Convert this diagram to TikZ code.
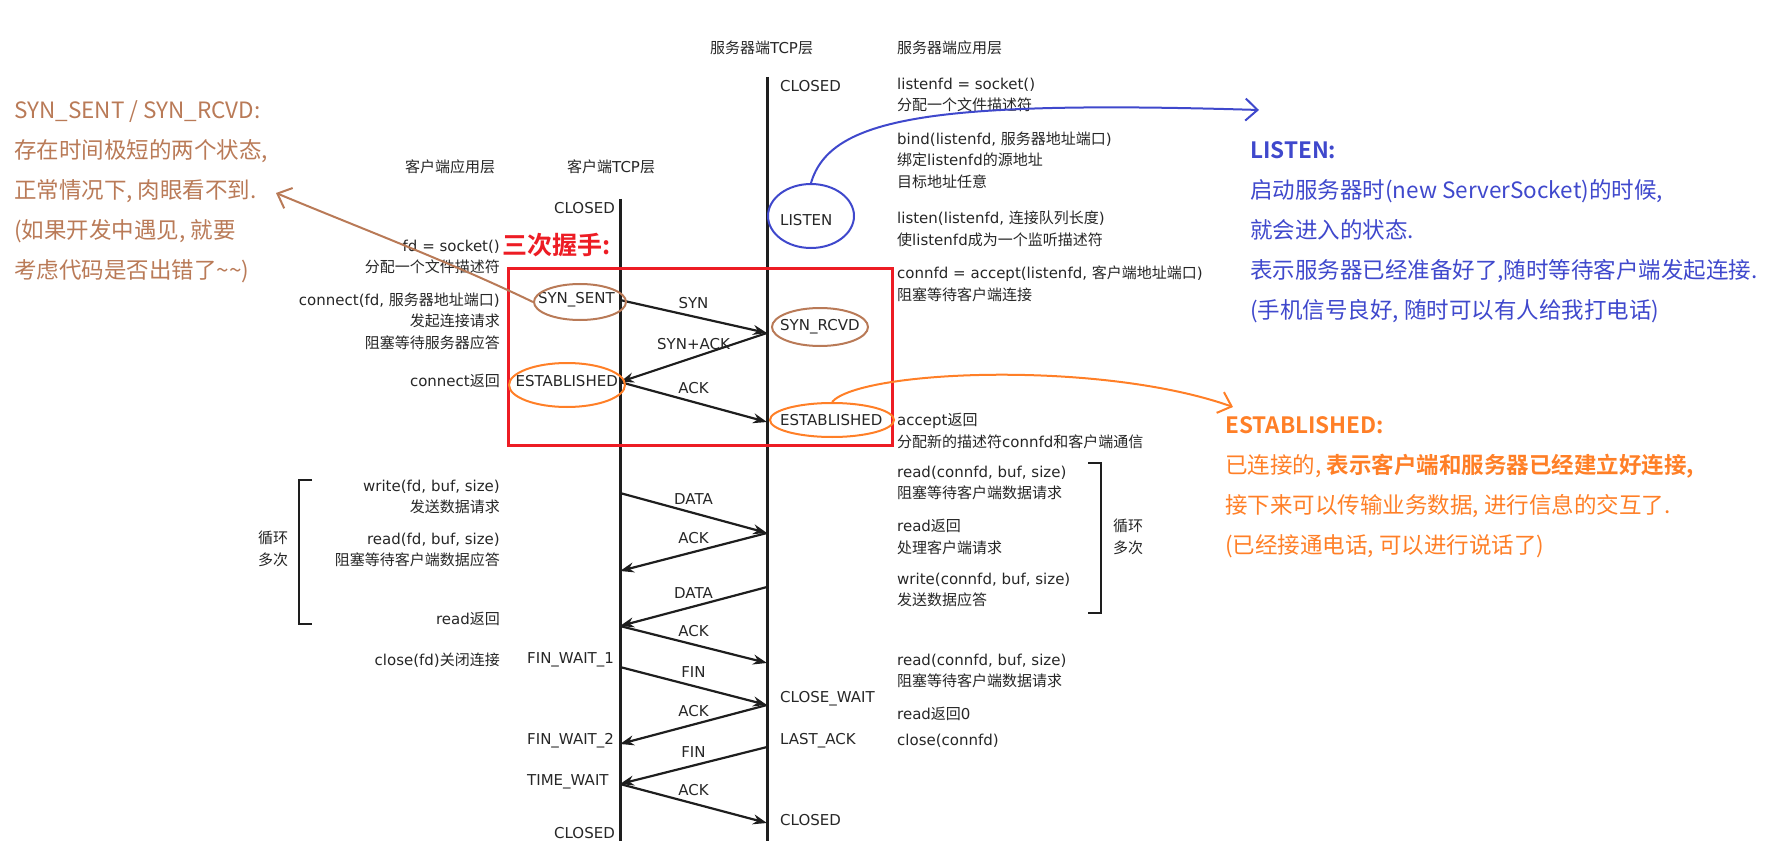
\documentclass[tikz,border=0pt]{standalone}
\usepackage{fontspec}
\setmainfont{Noto Sans CJK SC}[BoldFont={Noto Sans CJK SC Bold}]
\newfontfamily\dgLat{DejaVu Sans}
\newfontfamily\dgCjk{Noto Sans CJK SC}
\newXeTeXintercharclass\dgCjkClass
\newcount\dgChr
\dgChr="3000
\loop
  \XeTeXcharclass\dgChr=\dgCjkClass
  \advance\dgChr by 1
\ifnum\dgChr<"A000 \repeat
\XeTeXinterchartoks 0 \dgCjkClass = {\dgCjk}
\XeTeXinterchartoks 4095 \dgCjkClass = {\dgCjk}
\XeTeXinterchartoks \dgCjkClass 0 = {\dgLat}
\XeTeXinterchartoks \dgCjkClass 4095 = {\dgLat}
\newcommand\dgfont{\dgLat\fontsize{15}{21.5}\selectfont\XeTeXinterchartokenstate=1\relax}
\usepackage{tikz}
\usetikzlibrary{arrows.meta,shapes.geometric}
\definecolor{dgInk}{HTML}{262626}
\definecolor{dgLine}{HTML}{1E1E1E}
\definecolor{pnBrown}{HTML}{B97A57}
\definecolor{pnBlue}{HTML}{3F48CC}
\definecolor{pnOrange}{HTML}{FF7F27}
\definecolor{pnRed}{HTML}{ED1C24}

\begin{document}
\begin{tikzpicture}[x=1pt,y=-1pt,
  lab/.style={text=dgInk,inner sep=0pt,font=\dgfont},
  rl/.style={lab,anchor=east,align=right},
  ll/.style={lab,anchor=west,align=left},
  life/.style={dgLine,line width=3pt},
  msg/.style={-{Stealth[length=14pt,width=10pt]},dgLine,line width=2.2pt},
  ml/.style={lab,midway,above=7pt},
  ring/.style={draw,ellipse,line width=2pt,inner sep=0pt},
  hand/.style={-{Straight Barb[length=12pt,width=22pt]},line width=2pt},
  note/.style={anchor=north west,align=left,inner sep=0pt,font=\fontsize{22.5}{40}\selectfont}]
\useasboundingbox (0,0) rectangle (1781,853);
% headers
\node[ll] (hsrvtcp) at (710,48) {服务器端TCP层};
\node[ll] (hsrvapp) at (897,48) {服务器端应用层};
\node[ll] (hcliapp) at (405,167) {客户端应用层};
\node[ll] (hclitcp) at (567,167) {客户端TCP层};
% lifelines
\coordinate (ct) at (620,199);
\coordinate (cb) at (620,841);
\coordinate (st) at (767,77);
\coordinate (sb) at (767,841);
\draw[life] (ct) -- (cb);
\draw[life] (st) -- (sb);
% client application side
\node[rl] (cfd) at (500,257) {fd = socket()\\分配一个文件描述符};
\node[rl] (cconn) at (500,321) {connect(fd, 服务器地址端口)\\发起连接请求\\阻塞等待服务器应答};
\node[rl] (cconnret) at (500,381) {connect返回};
\node[rl] (cwrite) at (500,497) {write(fd, buf, size)\\发送数据请求};
\node[rl] (cread) at (500,550) {read(fd, buf, size)\\阻塞等待客户端数据应答};
\node[rl] (creadret) at (500,619) {read返回};
\node[rl] (cclose) at (500,660) {close(fd)关闭连接};
\node[lab,align=center] (cloop) at (273,549) {循环\\多次};
\draw[dgLine,line width=2.2pt] (312,480) -- (299,480) -- (299,624) -- (312,624);
% client states
\node[rl] (cs0) at (615,208) {CLOSED};
\node[rl] (cs1) at (615,300) {SYN\_SENT};
\node[rl] (cs2) at (618,381) {ESTABLISHED};
\node[ll] (cs3) at (527,660) {FIN\_WAIT\_1};
\node[ll] (cs4) at (527,741) {FIN\_WAIT\_2};
\node[ll] (cs5) at (527,782) {TIME\_WAIT};
\node[rl] (cs6) at (615,833) {CLOSED};
% server states
\node[ll] (ss0) at (780,86) {CLOSED};
\node[ll] (ss1) at (780,220) {LISTEN};
\node[ll] (ss2) at (780,327) {SYN\_RCVD};
\node[ll] (ss3) at (780,420) {ESTABLISHED};
\node[ll] (ss4) at (780,699) {CLOSE\_WAIT};
\node[ll] (ss5) at (780,741) {LAST\_ACK};
\node[ll] (ss6) at (780,820) {CLOSED};
% server application side
\node[ll] (ssock) at (897,95) {listenfd = socket()\\分配一个文件描述符};
\node[ll] (sbind) at (897,160) {bind(listenfd, 服务器地址端口)\\绑定listenfd的源地址\\目标地址任意};
\node[ll] (slisten) at (897,229) {listen(listenfd, 连接队列长度)\\使listenfd成为一个监听描述符};
\node[ll] (saccept) at (897,284) {connfd = accept(listenfd, 客户端地址端口)\\阻塞等待客户端连接};
\node[ll] (sacret) at (897,431) {accept返回\\分配新的描述符connfd和客户端通信};
\node[ll] (sread) at (897,483) {read(connfd, buf, size)\\阻塞等待客户端数据请求};
\node[ll] (sreadret) at (897,537) {read返回\\处理客户端请求};
\node[ll] (swrite) at (897,590) {write(connfd, buf, size)\\发送数据应答};
\node[ll] (sread2) at (897,671) {read(connfd, buf, size)\\阻塞等待客户端数据请求};
\node[ll] (sread0) at (897,714) {read返回0};
\node[ll] (sclose) at (897,741) {close(connfd)};
\node[lab,align=center] (sloop) at (1128,537) {循环\\多次};
\draw[dgLine,line width=2.2pt] (1088,463) -- (1101,463) -- (1101,613) -- (1088,613);
% message points
\coordinate (c1) at (620,300);
\coordinate (c2) at (620,382);
\coordinate (c3) at (620,493);
\coordinate (c4) at (620,571);
\coordinate (c5) at (620,626);
\coordinate (c6) at (620,667);
\coordinate (c7) at (620,744);
\coordinate (c8) at (620,784);
\coordinate (s1) at (767,333);
\coordinate (s2) at (767,422);
\coordinate (s3) at (767,533);
\coordinate (s4) at (767,587);
\coordinate (s5) at (767,663);
\coordinate (s6) at (767,705);
\coordinate (s7) at (767,747);
\coordinate (s8) at (767,823);
\draw[msg] (c1) -- node[ml]{SYN} (s1);
\draw[msg] (s1) -- node[ml]{SYN+ACK} (c2);
\draw[msg] (c2) -- node[ml]{ACK} (s2);
\draw[msg] (c3) -- node[ml]{DATA} (s3);
\draw[msg] (s3) -- node[ml]{ACK} (c4);
\draw[msg] (s4) -- node[ml]{DATA} (c5);
\draw[msg] (c5) -- node[ml]{ACK} (s5);
\draw[msg] (c6) -- node[ml]{FIN} (s6);
\draw[msg] (s6) -- node[ml]{ACK} (c7);
\draw[msg] (s7) -- node[ml]{FIN} (c8);
\draw[msg] (c8) -- node[ml]{ACK} (s8);
% three-way handshake box
\draw[pnRed,line width=3pt] (508,269) rectangle (892,445);
\node[anchor=west,inner sep=0pt,text=pnRed,font=\fontsize{25}{25}\selectfont\bfseries] (hs) at (502,245) {三次握手:};
% hand-drawn notes
\node[ring,pnBrown,minimum width=92pt,minimum height=36pt] (synring) at (580,302) {};
\node[ring,pnBrown,minimum width=96pt,minimum height=38pt] (rcvring) at (820,327) {};
\node[ring,pnBlue,minimum width=86pt,minimum height=64pt] (lsring) at (811,216) {};
\node[ring,pnOrange,minimum width=124pt,minimum height=34pt] (estring) at (832,420) {};
\node[ring,pnOrange,minimum width=116pt,minimum height=44pt] (cestring) at (567,385) {};
\coordinate (brtip) at (276,193);
\coordinate (bltip) at (1259,110);
\coordinate (ortip) at (1233,407);
\draw[hand,pnBrown] (synring.west) .. controls (450,262) and (360,228) .. (brtip);
\draw[hand,pnBlue] (lsring.north) .. controls (830,118) and (930,100) .. (bltip);
\draw[hand,pnOrange] (estring.north) .. controls (860,370) and (1100,360) .. (ortip);
\node[note,text=pnBrown] (synnote) at (14,100) {SYN\_SENT / SYN\_RCVD:\\存在时间极短的两个状态,\\正常情况下, 肉眼看不到.\\(如果开发中遇见, 就要\\考虑代码是否出错了\textasciitilde\textasciitilde)};
\node[note,text=pnBlue] (lsnote) at (1250,141) {\textbf{LISTEN:}\\启动服务器时(new ServerSocket)的时候,\\就会进入的状态.\\表示服务器已经准备好了,随时等待客户端发起连接.\\(手机信号良好, 随时可以有人给我打电话)};
\node[note,text=pnOrange] (esnote) at (1225,416) {\textbf{ESTABLISHED:}\\已连接的, \textbf{表示客户端和服务器已经建立好连接,}\\接下来可以传输业务数据, 进行信息的交互了.\\(已经接通电话, 可以进行说话了)};
\end{tikzpicture}
\end{document}
